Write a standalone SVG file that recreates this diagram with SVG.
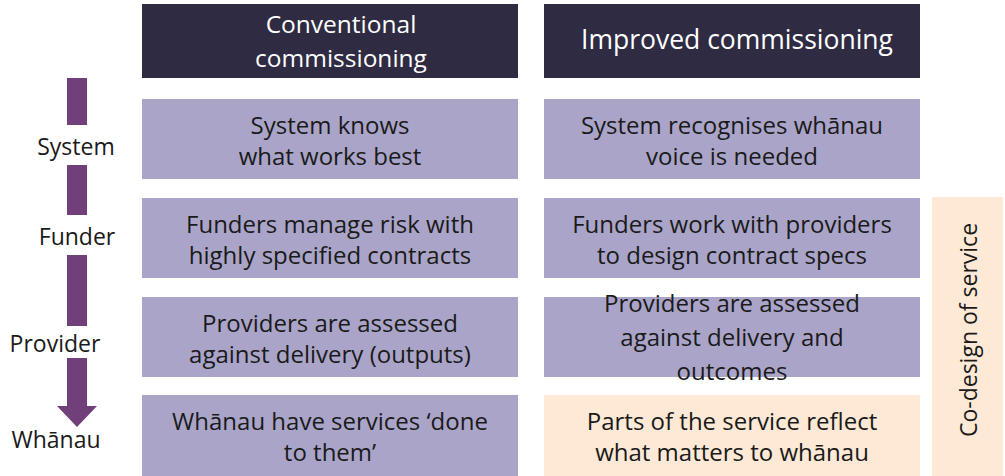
<svg xmlns="http://www.w3.org/2000/svg" width="1005" height="476" viewBox="0 0 1005 476">
  <style>
    .hdr { fill: #2f2b43; }
    .cell { fill: #aaa5c8; }
    .peach { fill: #fde9d6; }
    text { font-family: "Open Sans", "Noto Sans", "Liberation Sans", sans-serif; }
    .ht { fill: #ffffff; font-size: 24.5px; text-anchor: middle; }
    .ct { fill: #1a1a1a; font-size: 24px; text-anchor: middle; }
    .lt { fill: #1a1a1a; font-size: 23px; text-anchor: middle; }
    .arw { fill: #71407b; }
  </style>

  <!-- level arrow with labels -->
  <g id="level-arrow">
    <rect class="arw" x="67" y="78" width="20" height="47"/>
    <rect class="arw" x="67" y="165" width="20" height="50"/>
    <rect class="arw" x="67" y="255" width="20" height="71"/>
    <path class="arw" d="M67,358 H87 V406 H97 L77,427 L57,406 H67 Z"/>
  </g>
  <g id="label-system"><text class="lt" x="76" y="155">System</text></g>
  <g id="label-funder"><text class="lt" x="77" y="245">Funder</text></g>
  <g id="label-provider"><text class="lt" x="55" y="352">Provider</text></g>
  <g id="label-whanau"><text class="lt" x="56" y="448">Whānau</text></g>

  <!-- column headers -->
  <g id="hdr-conventional">
    <rect class="hdr" x="142" y="4" width="376" height="74"/>
    <text class="ht" x="341" y="33">Conventional</text>
    <text class="ht" x="341" y="67">commissioning</text>
  </g>
  <g id="hdr-improved">
    <rect class="hdr" x="544" y="4" width="376" height="74"/>
    <text class="ht" x="737" y="49" style="font-size:26.5px">Improved commissioning</text>
  </g>

  <!-- conventional column -->
  <g id="conv-system">
    <rect class="cell" x="142" y="99" width="376" height="80"/>
    <text class="ct" x="330" y="134">System knows</text>
    <text class="ct" x="330" y="165">what works best</text>
  </g>
  <g id="conv-funder">
    <rect class="cell" x="142" y="198" width="376" height="80"/>
    <text class="ct" x="330" y="233">Funders manage risk with</text>
    <text class="ct" x="330" y="264">highly specified contracts</text>
  </g>
  <g id="conv-provider">
    <rect class="cell" x="142" y="297" width="376" height="80"/>
    <text class="ct" x="330" y="332">Providers are assessed</text>
    <text class="ct" x="330" y="363">against delivery (outputs)</text>
  </g>
  <g id="conv-whanau">
    <rect class="cell" x="142" y="395" width="376" height="81"/>
    <text class="ct" x="330" y="430">Whānau have services ‘done</text>
    <text class="ct" x="330" y="461">to them’</text>
  </g>

  <!-- improved column -->
  <g id="impr-system">
    <rect class="cell" x="544" y="99" width="376" height="80"/>
    <text class="ct" x="732" y="134">System recognises whānau</text>
    <text class="ct" x="732" y="165">voice is needed</text>
  </g>
  <g id="impr-funder">
    <rect class="cell" x="544" y="198" width="376" height="80"/>
    <text class="ct" x="732" y="233">Funders work with providers</text>
    <text class="ct" x="732" y="264">to design contract specs</text>
  </g>
  <g id="impr-provider">
    <rect class="cell" x="544" y="297" width="376" height="80"/>
    <text class="ct" x="732" y="312">Providers are assessed</text>
    <text class="ct" x="732" y="346">against delivery and</text>
    <text class="ct" x="732" y="380">outcomes</text>
  </g>
  <g id="impr-whanau">
    <rect class="peach" x="544" y="395" width="376" height="81"/>
    <text class="ct" x="732" y="430">Parts of the service reflect</text>
    <text class="ct" x="732" y="461">what matters to whānau</text>
  </g>

  <!-- co-design side band -->
  <g id="codesign">
    <rect class="peach" x="932" y="197" width="71" height="279"/>
    <text class="ct" x="0" y="0" transform="translate(977,330) rotate(-90)" style="font-size:23px">Co-design of service</text>
  </g>
</svg>
